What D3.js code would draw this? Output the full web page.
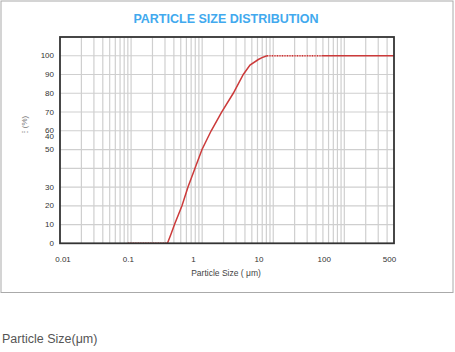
<!DOCTYPE html>
<html>
<head>
<meta charset="utf-8">
<script src="https://cdn.jsdelivr.net/npm/d3@7"></script>
<style>
  body { margin: 0; background: #fff; }
  svg { display: block; font-family: "Liberation Sans", Arial, sans-serif; }
</style>
</head>
<body>
<svg id="chart" width="455" height="352"></svg>
<script>
// particle size (um) and cumulative percent
let sizes      = [0.09, 0.325, 0.365, 0.408, 0.52, 0.632, 0.793, 0.995, 1.34, 1.88, 2.74, 3.79, 4.71, 6.17, 6.95, 8.17, 20, 48, 500];
let cumulative = [0,    0,     5,     10,    20,   30,    40,    50,    60,   70,   80,   90,   95,   98,   99,   100,  100, 100, 100];

// parts of the curve that look dotted in the original
let dottedRanges = [[0.09, 0.325], [8.17, 48]];

let xTickLabels = ["0.01", "0.1", "1", "10", "100", "500"];
// y labels as printed (the "40" sits just under 60 in the original)
let yTickLabels = ["0", "10", "20", "30", "50", "40", "60", "70", "80", "90", "100"];
let yTickValues = [0, 10, 20, 30, 50, 57, 60, 70, 80, 90, 100];
let yGrid = [10, 20, 30, 40, 50, 60, 70, 80, 90, 100];

let data = sizes.map((s, i) => ({x: s, y: cumulative[i]}));

let svg = d3.select("#chart");

let plotLeft = 60, plotRight = 394, plotTop = 37, plotBottom = 243.3;

let xScale = d3.scaleLog().domain([0.01, 500]).range([plotLeft, plotRight]);
let yScale = d3.scaleLinear().domain([0, 110]).range([plotBottom, plotTop]);
let labelScale = d3.scalePoint().domain(xTickLabels).range([63, 389.5]);

// outer frame
svg.append("rect")
  .attr("x", 1).attr("y", 1)
  .attr("width", 452).attr("height", 291.5)
  .attr("fill", "none")
  .attr("stroke", "#aaa")
  .attr("stroke-width", 1);

svg.append("text")
  .attr("x", 226).attr("y", 23)
  .attr("text-anchor", "middle")
  .attr("font-size", 12.5)
  .attr("font-weight", "bold")
  .attr("fill", "#41a9ee")
  .text("PARTICLE SIZE DISTRIBUTION");

// vertical grid: 2..9 of every decade
let xGrid = [];
for (let p = -2; p <= 2; p++) {
  for (let m = 1; m <= 9; m++) {
    let v = m * Math.pow(10, p);
    if (v > 0.01 && v < 500) xGrid.push(v);
  }
}

svg.append("g").selectAll("line").data(xGrid).enter().append("line")
  .attr("x1", d => xScale(d)).attr("x2", d => xScale(d))
  .attr("y1", plotTop).attr("y2", plotBottom)
  .attr("stroke", "#cfcfcf")
  .attr("stroke-width", 1.2);

svg.append("g").selectAll("line").data(yGrid).enter().append("line")
  .attr("x1", plotLeft).attr("x2", plotRight)
  .attr("y1", d => yScale(d)).attr("y2", d => yScale(d))
  .attr("stroke", "#cfcfcf")
  .attr("stroke-width", 1.2);

// curve: split into dotted and solid stretches
let segments = [];
let cuts = [0.09, 0.325, 8.17, 48, 500];
for (let i = 0; i < cuts.length - 1; i++) {
  let seg = data.filter(d => d.x >= cuts[i] && d.x <= cuts[i + 1]);
  let dotted = dottedRanges.some(r => r[0] == cuts[i]);
  segments.push({points: seg, dotted: dotted});
}

let line = d3.line()
  .x(d => xScale(d.x))
  .y(d => yScale(d.y));

segments.forEach(s => {
  if (s.dotted) {
    svg.append("path")
      .attr("d", line(s.points))
      .attr("fill", "none")
      .attr("stroke", "#e8a5a5")
      .attr("stroke-width", 1.5);
    svg.append("path")
      .attr("d", line(s.points))
      .attr("fill", "none")
      .attr("stroke", "#c83838")
      .attr("stroke-width", 1.5)
      .attr("stroke-dasharray", "1,1.5");
  } else {
    svg.append("path")
      .attr("d", line(s.points))
      .attr("fill", "none")
      .attr("stroke", "#cc3a3a")
      .attr("stroke-width", 1.5);
  }
});

// plot border
svg.append("rect")
  .attr("x", plotLeft).attr("y", plotTop)
  .attr("width", plotRight - plotLeft).attr("height", plotBottom - plotTop)
  .attr("fill", "none")
  .attr("stroke", "#333")
  .attr("stroke-width", 1.8);

// tick labels
svg.append("g").selectAll("text").data(xTickLabels).enter().append("text")
  .attr("x", d => labelScale(d))
  .attr("y", 262)
  .attr("text-anchor", "middle")
  .attr("font-size", 8)
  .attr("fill", "#333")
  .text(d => d);

svg.append("g").selectAll("text").data(yTickLabels).enter().append("text")
  .attr("x", 54)
  .attr("y", (d, i) => yScale(yTickValues[i]) + 2.5)
  .attr("text-anchor", "end")
  .attr("font-size", 8)
  .attr("fill", "#333")
  .text(d => d);

svg.append("text")
  .attr("x", 226).attr("y", 276)
  .attr("text-anchor", "middle")
  .attr("font-size", 8.5)
  .attr("fill", "#444")
  .text("Particle Size ( \u03bcm)");

svg.append("text")
  .attr("transform", "translate(27,126) rotate(-90)")
  .attr("text-anchor", "middle")
  .attr("font-size", 8)
  .attr("fill", "#777")
  .text("\u22ee(%)");

svg.append("text")
  .attr("x", 2).attr("y", 343)
  .attr("font-size", 12.5)
  .attr("fill", "#555")
  .text("Particle Size(\u03bcm)");
</script>
</body>
</html>
